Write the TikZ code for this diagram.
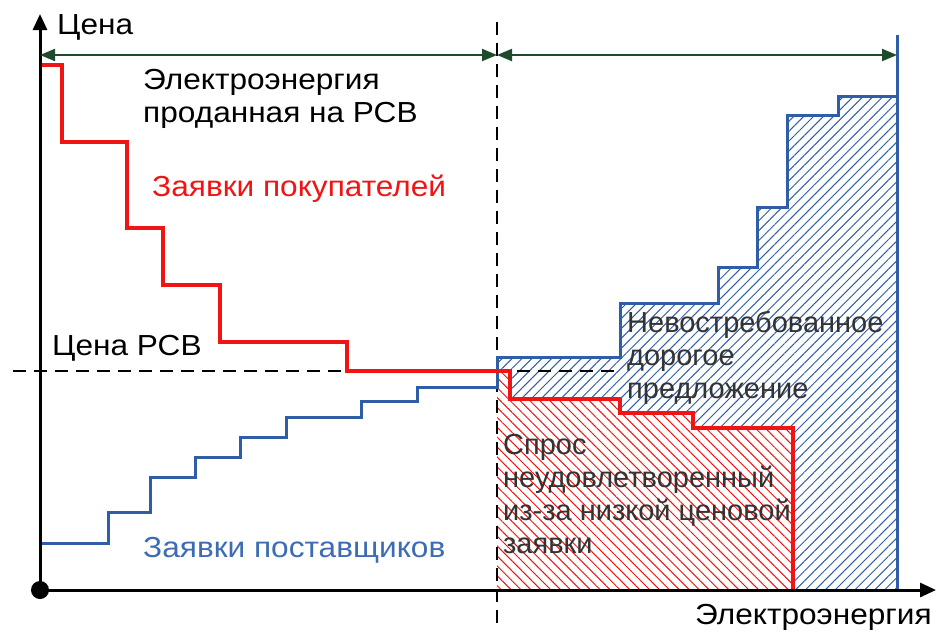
\documentclass[tikz,border=0pt]{standalone}
\usepackage{fontspec}
\setmainfont[FakeStretch=1.09]{Liberation Sans}
\newfontfamily\plainsans{Liberation Sans}
\usetikzlibrary{patterns.meta,arrows.meta}
\definecolor{rline}{HTML}{F01414}
\definecolor{bline}{HTML}{2F5EA6}
\definecolor{btext}{HTML}{3D6CB5}
\definecolor{gline}{HTML}{1F4A2C}
\definecolor{tgray}{HTML}{333333}
\begin{document}
\begin{tikzpicture}[x=1pt,y=-1pt,
  lbl/.style={anchor=base west, inner sep=0pt, font=\fontsize{29}{33}\selectfont, align=left},
  glbl/.style={lbl, text=tgray, font=\plainsans\fontsize{29}{33}\selectfont},
  axisline/.style={line width=3pt, -{Triangle[length=16pt,width=14pt]}},
  garrow/.style={gline, line width=2pt, {Triangle[length=15pt,width=12pt]}-{Triangle[length=15pt,width=12pt]}},
  rstep/.style={rline, line width=3.5pt, line join=miter},
  bstep/.style={bline, line width=3pt, line join=miter},
  dline/.style={black, line width=2pt, dash pattern=on 13pt off 8pt}]
\useasboundingbox[fill=white] (0,0) rectangle (936,633);

% hatched regions
\path[pattern={Lines[angle=45,distance=7pt,line width=1pt]}, pattern color=bline]
  (497,357) -- (620,357) -- (620,303) -- (718,303) -- (718,267) -- (757,267) -- (757,207)
  -- (787,207) -- (787,115) -- (838,115) -- (838,96) -- (897,96) -- (897,590) -- (497,590) -- cycle;
\fill[white] (497,371) -- (510,371) -- (510,399) -- (620,399) -- (620,413) -- (693,413) -- (693,428)
  -- (793,428) -- (793,590) -- (497,590) -- cycle;
\path[pattern={Lines[angle=-45,distance=7pt,line width=1pt]}, pattern color=rline]
  (497,371) -- (510,371) -- (510,399) -- (620,399) -- (620,413) -- (693,413) -- (693,428)
  -- (793,428) -- (793,590) -- (497,590) -- cycle;

% coordinates
\coordinate (O) at (40,590);
\coordinate (ytip) at (40,14);
\coordinate (xtip) at (936,590);
\coordinate (gl) at (40,55);
\coordinate (gm) at (497,55);
\coordinate (gr) at (897,55);
\coordinate (dt) at (497,22);
\coordinate (db) at (497,628);
\coordinate (hl) at (13,371);
\coordinate (hr) at (617,371);
\coordinate (bt) at (897,35);
\coordinate (bb) at (897,590);

% dashed lines
\draw[dline] (hl) -- (hr);
\draw[dline] (dt) -- (db);

% supply curve
\draw[bstep] (40,543) -- (108,543) -- (108,512) -- (150,512) -- (150,477) -- (195,477) -- (195,457)
  -- (240,457) -- (240,437) -- (286,437) -- (286,417) -- (361,417) -- (361,401) -- (417,401)
  -- (417,387) -- (497,387) -- (497,357) -- (620,357) -- (620,303) -- (718,303) -- (718,267)
  -- (757,267) -- (757,207) -- (787,207) -- (787,115) -- (838,115) -- (838,96) -- (897,96);
\draw[bline, line width=3pt] (bt) -- (bb);

% demand curve
\draw[rstep] (40,65) -- (62,65) -- (62,142) -- (127,142) -- (127,228) -- (163,228) -- (163,285)
  -- (220,285) -- (220,342) -- (347,342) -- (347,371) -- (510,371) -- (510,399) -- (620,399)
  -- (620,413) -- (693,413) -- (693,428) -- (793,428) -- (793,590);

% axes
\draw[axisline] (O) -- (ytip);
\draw[axisline] (O) -- (xtip);
\fill (O) circle (9pt);

% green arrows
\draw[garrow] (gl) -- (gm);
\draw[garrow] (gm) -- (gr);

% labels (base anchor of multi-line nodes = last line's baseline)
\node[lbl] (yl) at (57,34) {Цена};
\node[lbl] (sold) at (143,122) {Электроэнергия\\проданная на РСВ};
\node[lbl, text=rline] (buy) at (152,196) {Заявки покупателей};
\node[lbl] (price) at (52,355) {Цена РСВ};
\node[lbl, text=btext] (sup) at (143,557) {Заявки поставщиков};
\node[glbl] (unc) at (627,398) {Невостребованное\\дорогое\\предложение};
\node[glbl] (dem) at (503,553) {Спрос\\неудовлетворенный\\из-за низкой ценовой\\заявки};
\node[lbl] (xl) at (695,624) {Электроэнергия};
\end{tikzpicture}
\end{document}
